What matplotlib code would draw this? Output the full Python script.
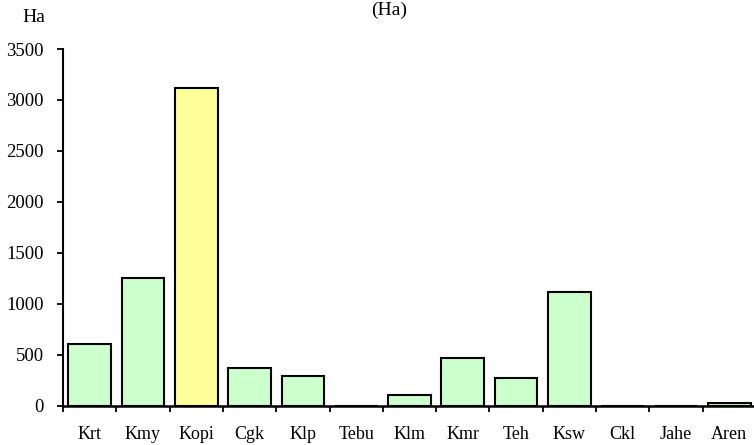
import numpy as np
import matplotlib.pyplot as plt
from matplotlib.ticker import FixedLocator, NullFormatter

plt.rcParams['font.family'] = ['Liberation Serif', 'DejaVu Serif']

# Crop area (Ha) per commodity
categories = ["Krt", "Kmy", "Kopi", "Cgk", "Klp", "Tebu", "Klm", "Kmr", "Teh", "Ksw", "Ckl", "Jahe", "Aren"]
areas = [603, 1248, 3120, 371, 294, 0, 100, 468, 274, 1112, 0, 0, 22]
highlight = "Kopi"

colors = ["#FFFF99" if c == highlight else "#CCFFCC" for c in categories]

fig = plt.figure(figsize=(7.54, 4.45), dpi=100)
ax = fig.add_axes([63 / 754, 1 - 405.5 / 445, 693 / 754, (405.5 - 49) / 445])

x = np.arange(len(categories))
ax.bar(x, areas, width=0.8, color=colors, edgecolor="black", linewidth=1.5)

ax.set_xlim(-0.5, len(categories) - 0.5)
ax.set_ylim(0, 3500)
ax.set_yticks(np.arange(0, 3501, 500))
ax.tick_params(axis="y", labelsize=13.5, length=4, width=1.3, direction="out", pad=10)

# category labels centred, tick marks on the boundaries
ax.set_xticks(x)
ax.set_xticklabels(categories, fontsize=13)
ax.tick_params(axis="x", which="major", length=0, pad=15)
ax.xaxis.set_minor_locator(FixedLocator(np.arange(-0.5, len(categories), 1.0)))
ax.xaxis.set_minor_formatter(NullFormatter())
ax.tick_params(axis="x", which="minor", length=4, width=1.3, direction="out")

for side in ["top", "right"]:
    ax.spines[side].set_visible(False)
ax.spines["left"].set_linewidth(1.5)
ax.spines["bottom"].set_linewidth(1.8)

fig.text(34 / 754, 1 - 17 / 445, "Ha", fontsize=14, ha="center", va="center")
fig.text(389 / 754, 1 - 2 / 445, "(Ha)", fontsize=14, ha="center", va="top")

fig.savefig("out.png", dpi=100)
